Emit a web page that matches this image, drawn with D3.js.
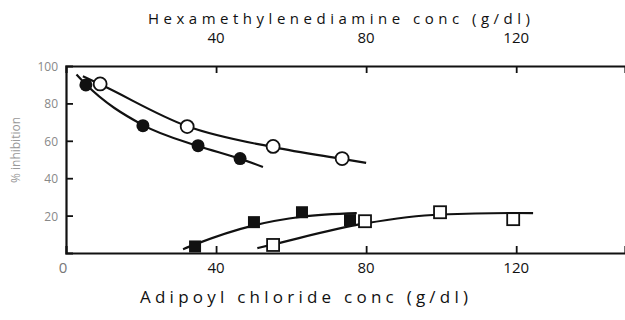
<!DOCTYPE html>
<html>
<head>
<meta charset="utf-8">
<script src="https://cdn.jsdelivr.net/npm/d3@7"></script>
<style>
  body { margin: 0; background: #fff; }
  text { font-family: 'Open Sans', sans-serif; fill: #111; }
</style>
</head>
<body>
<div id="chart"></div>
<script>
// measured points (x in g/dl, y in %)
const openCircles = [[9.1, 90.4], [32.3, 67.6], [55.2, 57.0], [73.6, 50.5]];
const filledCircles = [[5.3, 89.9], [20.5, 68.1], [35.2, 57.4], [46.4, 50.5]];
const filledSquares = [[34.4, 3.5], [50.1, 16.5], [62.9, 21.8], [75.7, 17.6]];
const openSquares = [[55.2, 4.3], [79.7, 17.0], [99.7, 21.8], [119.2, 18.1]];

// hand drawn fit curves
const openCircleFit = [[4.5, 94.5], [9.1, 90.2], [32.3, 67.8], [55.2, 56.6], [73.6, 50.3], [80, 48.2]];
const filledCircleFit = [[2.8, 95.5], [5.3, 90.2], [20.5, 68.4], [35.2, 57.2], [46.4, 50.4], [52.5, 46.0]];
const filledSquareFit = [[31.2, 2.0], [34.4, 4.6], [50.1, 14.8], [62.9, 19.4], [77.5, 21.3]];
const openSquareFit = [[51.0, 2.6], [55.2, 4.6], [79.7, 15.8], [99.7, 20.6], [119.2, 21.4], [124.5, 21.3]];

const xTicks = [0, 40, 80, 120];
const topTicks = [40, 80, 120];
const yTicks = [20, 40, 60, 80, 100];

const width = 625;
const height = 320;
const margin = { top: 66, right: 0, bottom: 67, left: 66 };

const svg = d3.select('#chart')
  .append('svg')
  .attr('width', width)
  .attr('height', height);

const x = d3.scaleLinear().domain([0, 149]).range([margin.left, width - margin.right]);
const y = d3.scaleLinear().domain([0, 100]).range([height - margin.bottom, margin.top]);

// axes (ticks drawn inward)
const bottomAxis = svg.append('g')
  .attr('transform', `translate(0,${y(0)})`)
  .call(d3.axisBottom(x).tickValues(xTicks.filter((d) => d > 0)).tickSize(-7).tickPadding(10).tickFormat(''));
const topAxis = svg.append('g')
  .attr('transform', `translate(0,${y(100)})`)
  .call(d3.axisTop(x).tickValues(topTicks).tickSize(-7).tickFormat(''));
const leftAxis = svg.append('g')
  .attr('transform', `translate(${x(0)},0)`)
  .call(d3.axisLeft(y).tickValues(yTicks.filter((d) => d < 100)).tickSize(-7).tickFormat(''));

[bottomAxis, topAxis, leftAxis].forEach((g) => {
  g.select('.domain').attr('stroke', '#111').attr('stroke-width', 2.2);
  g.selectAll('.tick line').attr('stroke', '#111').attr('stroke-width', 1.8);
});

// tick labels
svg.append('g')
  .selectAll('text')
  .data(xTicks)
  .join('text')
  .attr('x', (d) => x(d) - (d === 0 ? 3 : 0))
  .attr('y', y(0) + 20)
  .attr('text-anchor', 'middle')
  .style('font-size', '15px')
  .style('fill', (d) => (d === 0 ? '#777' : '#111'))
  .text((d) => d);

svg.append('g')
  .selectAll('text')
  .data(topTicks)
  .join('text')
  .attr('x', (d) => x(d))
  .attr('y', y(100) - 23)
  .attr('text-anchor', 'middle')
  .style('font-size', '15px')
  .text((d) => d);

svg.append('g')
  .selectAll('text')
  .data(yTicks)
  .join('text')
  .attr('x', x(0) - 8)
  .attr('y', (d) => y(d) + 5)
  .attr('text-anchor', 'end')
  .style('font-size', '12px')
  .style('fill', '#888')
  .text((d) => d);

// axis titles
svg.append('text')
  .attr('x', 148)
  .attr('y', 24)
  .attr('textLength', 382)
  .attr('lengthAdjust', 'spacing')
  .style('font-size', '15px')
  .text('Hexamethylenediamine conc (g/dl)');

svg.append('text')
  .attr('x', 140)
  .attr('y', 303)
  .attr('textLength', 328)
  .attr('lengthAdjust', 'spacing')
  .style('font-size', '17px')
  .text('Adipoyl chloride conc (g/dl)');

svg.append('text')
  .attr('transform', 'translate(20,150) rotate(-90)')
  .attr('text-anchor', 'middle')
  .style('font-size', '12px')
  .style('fill', '#999')
  .text('% inhibition');

// fit curves
const line = d3.line()
  .x((d) => x(d[0]))
  .y((d) => y(d[1]))
  .curve(d3.curveMonotoneX);

svg.append('g')
  .selectAll('path')
  .data([openCircleFit, filledCircleFit, filledSquareFit, openSquareFit])
  .join('path')
  .attr('d', line)
  .attr('fill', 'none')
  .attr('stroke', '#111')
  .attr('stroke-width', 2.2);

// markers
const r = 6.5;
const s = 12;

svg.append('g')
  .selectAll('circle')
  .data(filledCircles)
  .join('circle')
  .attr('cx', (d) => x(d[0]))
  .attr('cy', (d) => y(d[1]))
  .attr('r', r)
  .attr('fill', '#111');

svg.append('g')
  .selectAll('circle')
  .data(openCircles)
  .join('circle')
  .attr('cx', (d) => x(d[0]))
  .attr('cy', (d) => y(d[1]))
  .attr('r', r)
  .attr('fill', '#fff')
  .attr('stroke', '#111')
  .attr('stroke-width', 1.8);

svg.append('g')
  .selectAll('rect')
  .data(filledSquares)
  .join('rect')
  .attr('x', (d) => x(d[0]) - s / 2)
  .attr('y', (d) => y(d[1]) - s / 2)
  .attr('width', s)
  .attr('height', s)
  .attr('fill', '#111');

svg.append('g')
  .selectAll('rect')
  .data(openSquares)
  .join('rect')
  .attr('x', (d) => x(d[0]) - s / 2)
  .attr('y', (d) => y(d[1]) - s / 2)
  .attr('width', s)
  .attr('height', s)
  .attr('fill', '#fff')
  .attr('stroke', '#111')
  .attr('stroke-width', 1.8);
</script>
</body>
</html>
